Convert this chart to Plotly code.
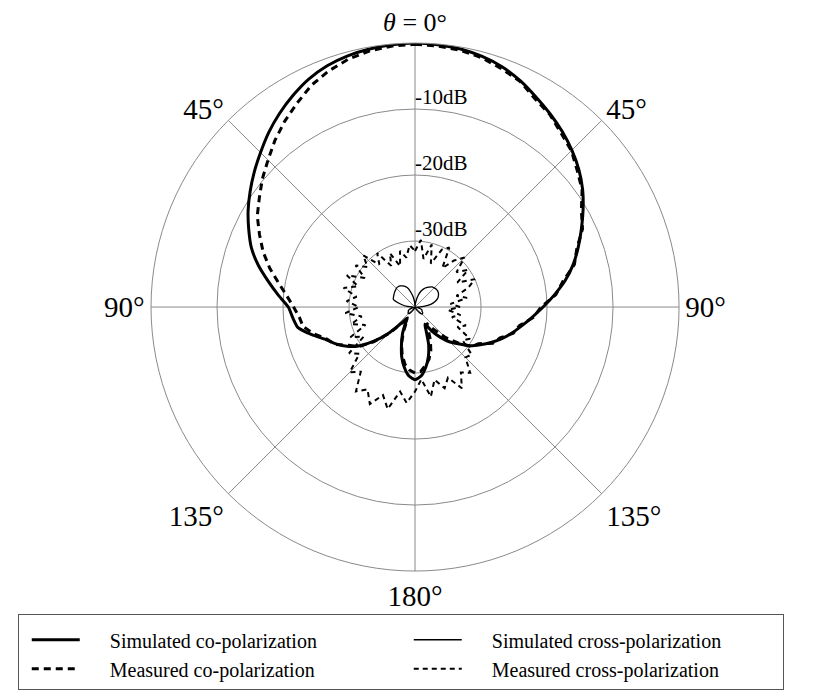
# %%
import plotly.graph_objects as go

# angles (deg, clockwise from boresight) every 5 degrees
theta = list(range(0, 360, 5)) + [360]

# simulated co-polarization (dB)
sim_co = [0, -0.1, -0.3, -0.7, -1.3, -2.2, -3.3, -4.3, -5.3, -6.4,
          -7.6, -9.0, -10.6, -12.2, -13.7, -15.2, -16.9, -18.8, -20.6, -22.2,
          -23.6, -24.8, -26.0, -27.3, -28.6, -29.8, -31.3, -32.5, -34.0, -35.5,
          -37.0, -36.0, -34.0, -32.2, -30.7, -29.5, -29.0,
          -29.5, -30.7, -32.2, -34.0, -35.5, -37.0, -38.0, -36.8, -34.5,
          -32.0, -29.8, -28.1, -26.8, -25.6, -23.8, -22.0, -21.4, -20.8, -19.2,
          -17.4, -15.4, -13.6, -12.2, -10.8, -9.5, -8.2, -6.9, -5.5, -4.2,
          -3.0, -1.9, -1.1, -0.6, -0.3, -0.1, 0]

# measured co-polarization (dB)
meas_co = [-0.2, -0.3, -0.5, -0.9, -1.6, -2.3, -3.6, -4.4, -5.6, -6.5,
           -7.9, -9.1, -10.9, -12.0, -13.9, -15.0, -17.2, -18.6, -20.9, -22.0,
           -23.9, -24.6, -26.3, -27.0, -28.9, -29.5, -31.6, -33.5, -35.5, -37.0,
           -36.0, -34.5, -33.0, -31.8, -31.0, -30.2, -30.0,
           -30.4, -31.2, -32.5, -34.0, -35.8, -37.5, -37.8, -36.5, -34.2,
           -31.8, -29.5, -28.4, -26.6, -25.8, -24.2, -22.8, -22.4, -21.6, -20.5,
           -19.0, -17.2, -15.5, -14.0, -12.4, -11.2, -9.8, -8.5, -7.0, -5.6,
           -4.3, -2.9, -1.9, -1.1, -0.6, -0.3, -0.2]

# simulated cross-polarization (dB)
sim_cross = [-40, -39.6, -39.0, -38.2, -37.5, -37.0, -36.6, -36.3, -36.0, -35.9,
             -35.8, -35.8, -35.9, -36.1, -36.4, -36.9, -37.5, -38.5, -39.5, -39.8,
             -39.8, -39.4, -39.0, -38.8, -38.8, -38.6, -38.5, -38.5, -38.8, -39.2,
             -39.5, -39.8, -40, -40, -40, -40, -40,
             -40, -40, -40, -40, -39.8, -39.6, -39.2, -38.8, -38.6,
             -38.6, -38.8, -38.8, -39.0, -39.4, -39.8, -39.6, -39.6, -39.6, -38.8,
             -38.0, -37.2, -36.5, -36.4, -36.3, -36.2, -36.1, -36.0, -36.0, -36.1,
             -36.3, -36.6, -37.0, -37.8, -38.5, -39.3, -40]

# measured cross-polarization (dB), noisy measurement
meas_cross = [-31.5, -29.8, -32.6, -30.2, -33.0, -30.4, -29.6, -32.8, -30.8, -29.4,
              -31.8, -30.2, -32.6, -30.0, -31.4, -33.5, -32.0, -34.6, -33.2, -35.0,
              -33.0, -34.2, -31.8, -32.9, -30.4, -31.2, -28.8, -29.2, -27.0, -27.9,
              -25.8, -28.2, -26.9, -28.6, -26.2, -29.0, -27.2,
              -25.4, -27.0, -24.0, -25.8, -23.8, -25.6, -24.4, -27.2, -26.0,
              -29.0, -27.8, -31.0, -29.2, -32.0, -30.0, -31.8, -29.4, -31.5, -29.6,
              -31.0, -28.8, -30.8, -28.6, -31.2, -29.0, -30.6, -28.9, -31.6, -30.0,
              -32.8, -31.0, -33.4, -31.2, -32.4, -30.6, -31.5]

tick_angles = [0, 45, 90, 135, 180, 225, 270, 315]
tick_labels = ['<span style="font-size:26px"><i>θ</i> = 0°</span>', '45°', '90°', '135°',
               '180°', '135°', '90°', '45°']

db_levels = [-10, -20, -30]
db_labels = ['-10dB', '-20dB', '-30dB']

gap = '\u00a0' * 5  # space between legend symbol and text

# %%
fig = go.Figure()

fig.add_trace(go.Scatterpolar(r=sim_co, theta=theta, mode='lines',
                              name=gap + 'Simulated co-polarization',
                              line=dict(color='black', width=3, shape='spline', smoothing=0.6)))
fig.add_trace(go.Scatterpolar(r=sim_cross, theta=theta, mode='lines',
                              name=gap + 'Simulated cross-polarization',
                              line=dict(color='black', width=1.3, shape='spline', smoothing=0.6)))
fig.add_trace(go.Scatterpolar(r=meas_co, theta=theta, mode='lines',
                              name=gap + 'Measured co-polarization',
                              line=dict(color='black', width=3, dash='7px,5px')))
fig.add_trace(go.Scatterpolar(r=meas_cross, theta=theta, mode='lines',
                              name=gap + 'Measured cross-polarization',
                              line=dict(color='black', width=2, dash='5px,4px')))

fig.add_trace(go.Scatterpolar(r=db_levels, theta=[0, 0, 0], mode='text',
                              text=db_labels, textposition='top right',
                              textfont=dict(size=21, color='black'),
                              showlegend=False, hoverinfo='skip'))

fig.update_layout(
    width=813, height=699,
    margin=dict(l=0, r=0, t=0, b=0),
    paper_bgcolor='white',
    font=dict(family='Liberation Serif', color='black'),
    polar=dict(
        domain=dict(x=[0.1759, 0.8254], y=[0.1945, 0.9499]),
        bgcolor='white',
        radialaxis=dict(range=[-40, 0], tickvals=[-30, -20, -10], showticklabels=False,
                        ticks='', showline=False, gridcolor='#8a8a8a', gridwidth=1),
        angularaxis=dict(rotation=90, direction='clockwise', tickmode='array',
                         tickvals=tick_angles, ticktext=tick_labels, ticks='',
                         gridcolor='#8a8a8a', linecolor='#8a8a8a', linewidth=1,
                         tickfont=dict(size=29, family='Liberation Serif')),
    ),
    legend=dict(orientation='h', x=0.012, y=0.133, xanchor='left', yanchor='top',
                entrywidth=311, itemwidth=48, indentation=8,
                bordercolor='#555', borderwidth=1,
                font=dict(size=20), title=dict(text=' ', side='top', font=dict(size=4))),
)

fig.write_html("out.html")
